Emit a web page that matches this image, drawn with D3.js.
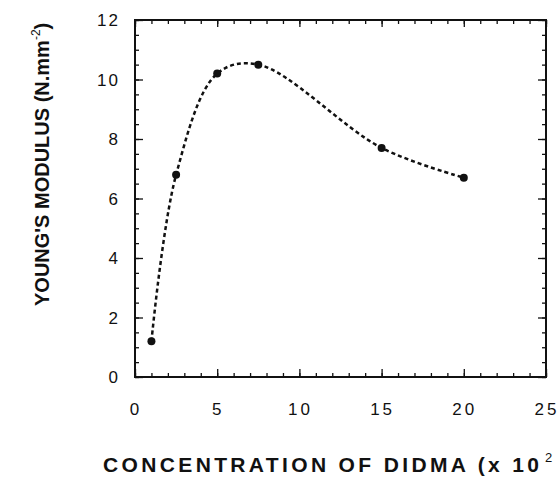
<!DOCTYPE html>
<html>
<head>
<meta charset="utf-8">
<script src="https://cdn.jsdelivr.net/npm/d3@7"></script>
<style>
  html, body { margin: 0; padding: 0; background: #fff; }
  svg { display: block; }
</style>
</head>
<body>
<div id="chart"></div>
<script>
// concentration of DIDMA (x 10^2) vs Young's modulus
const concentration = [1, 2.5, 5, 7.5, 15, 20];
const modulus = [1.2, 6.8, 10.2, 10.5, 7.7, 6.7];
const xTicks = [0, 5, 10, 15, 20, 25];
const yTicks = [0, 2, 4, 6, 8, 10, 12];

const width = 560, height = 478;
const margin = { left: 135, top: 20, right: 14, bottom: 101 };

const svg = d3.select("#chart").append("svg")
  .attr("width", width)
  .attr("height", height);

const x = d3.scaleLinear().domain([0, 25]).range([margin.left, width - margin.right]);
const y = d3.scaleLinear().domain([0, 12]).range([height - margin.bottom, margin.top]);

const font = "'Liberation Sans', Arial, sans-serif";

// minor + major ticks, all pointing inward
function tickAxis(axisFn, scale, major, minor, majorLen, minorLen, tx, ty) {
  const gMinor = svg.append("g").attr("transform", `translate(${tx},${ty})`)
    .call(axisFn(scale).tickValues(minor).tickSize(minorLen).tickFormat(""));
  const gMajor = svg.append("g").attr("transform", `translate(${tx},${ty})`)
    .call(axisFn(scale).tickValues(major).tickSize(majorLen).tickFormat(""));
  [gMinor, gMajor].forEach((g) => {
    g.select(".domain").remove();
    g.selectAll("line").attr("stroke", "#111").attr("stroke-width", 1.3);
  });
}

const xMinor = d3.range(0, 26, 1);
const yMinor = d3.range(0, 12.01, 0.5);

tickAxis(d3.axisTop, x, xTicks, xMinor, 8, 4, 0, y(0));
tickAxis(d3.axisBottom, x, xTicks, xMinor, 7, 4, 0, y(12));
tickAxis(d3.axisRight, y, yTicks, yMinor, 8, 4, x(0), 0);
tickAxis(d3.axisLeft, y, yTicks, yMinor, 8, 4, x(25), 0);

// frame
svg.append("rect")
  .attr("x", x(0)).attr("y", y(12))
  .attr("width", x(25) - x(0)).attr("height", y(0) - y(12))
  .attr("fill", "none").attr("stroke", "#111").attr("stroke-width", 2);

// tick labels
svg.append("g").selectAll("text").data(xTicks).enter().append("text")
  .attr("x", (d) => x(d) + 1)
  .attr("y", 415)
  .attr("text-anchor", "middle")
  .style("font-family", font).style("font-size", "17px")
  .style("letter-spacing", "3px")
  .attr("fill", "#111")
  .text((d) => d);

svg.append("g").selectAll("text").data(yTicks).enter().append("text")
  .attr("x", 120)
  .attr("y", (d) => y(d) + 6)
  .attr("text-anchor", "end")
  .style("font-family", font).style("font-size", "17px")
  .style("letter-spacing", "2px")
  .attr("fill", "#111")
  .text((d) => d);

// axis titles
const xt = svg.append("text")
  .attr("x", 103).attr("y", 472)
  .style("font-family", font).style("font-size", "21px").style("font-weight", "bold")
  .attr("fill", "#111");
xt.append("tspan").attr("textLength", 436).attr("lengthAdjust", "spacing")
  .text("CONCENTRATION OF DIDMA (x 10");
xt.append("tspan").attr("x", 545).attr("dy", -10).style("font-size", "13px").style("font-weight", "normal").text("2");

const yt = svg.append("text")
  .attr("transform", "translate(49,306) rotate(-90)")
  .style("font-family", font).style("font-size", "20px").style("font-weight", "bold")
  .attr("fill", "#111");
yt.append("tspan").text("YOUNG'S MODULUS (N.mm");
yt.append("tspan").attr("dy", -9).style("font-size", "12px").style("font-weight", "normal").text("-2");
yt.append("tspan").attr("dy", 9).text(")");

// smooth dashed curve through points
const pts = concentration.map((c, i) => [c, modulus[i]]);
const line = d3.line()
  .x((d) => x(d[0]))
  .y((d) => y(d[1]))
  .curve(d3.curveCatmullRom.alpha(0.5));

svg.append("path")
  .datum(pts)
  .attr("d", line)
  .attr("fill", "none")
  .attr("stroke", "#111")
  .attr("stroke-width", 2.5)
  .attr("stroke-dasharray", "4,3");

svg.append("g").selectAll("circle").data(pts).enter().append("circle")
  .attr("cx", (d) => x(d[0]))
  .attr("cy", (d) => y(d[1]))
  .attr("r", 4)
  .attr("fill", "#111");
</script>
</body>
</html>
